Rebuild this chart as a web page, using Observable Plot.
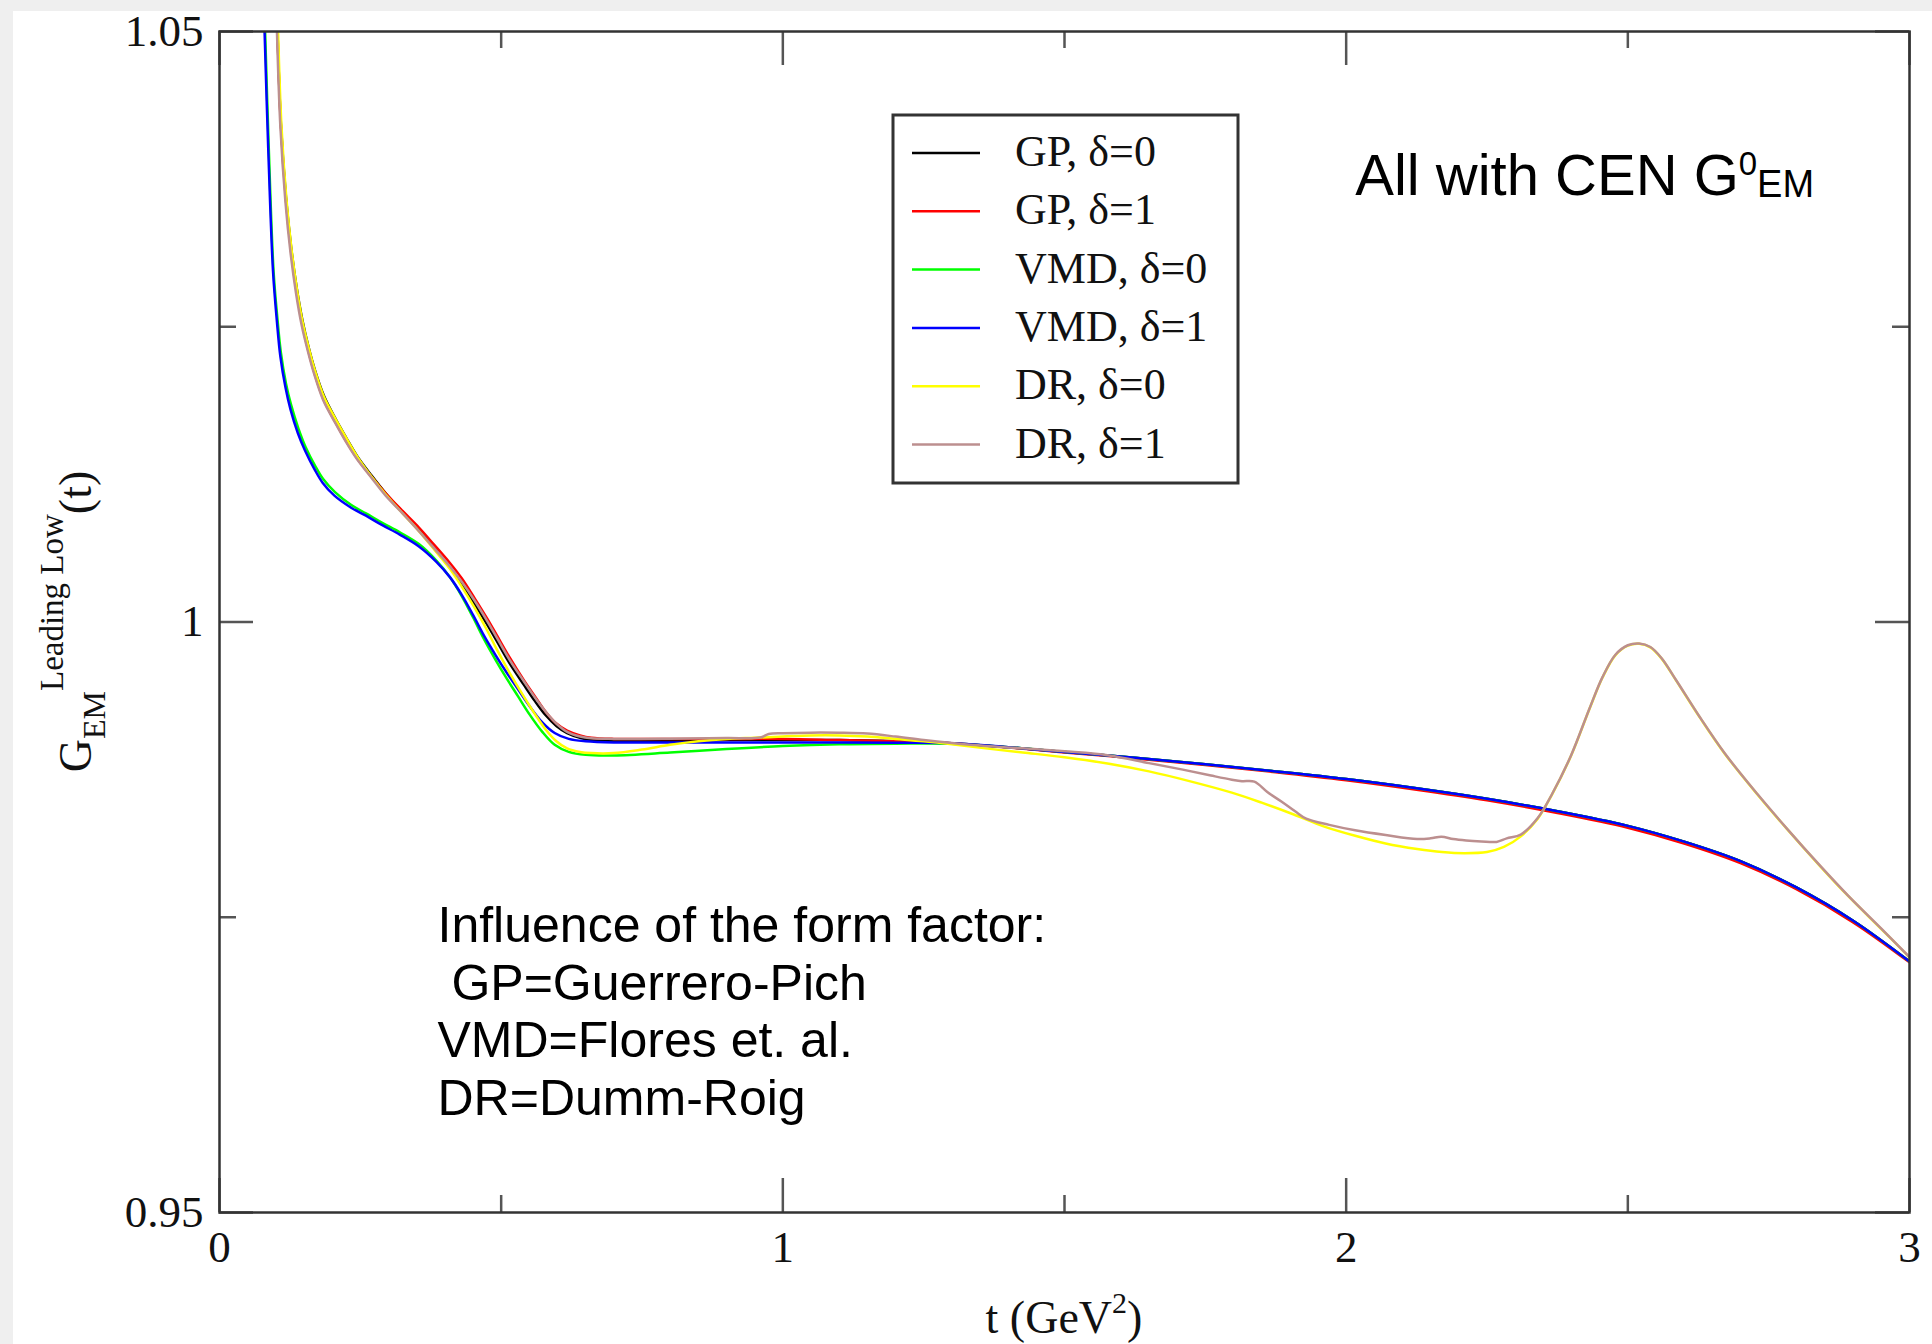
<!DOCTYPE html>
<html>
<head>
<meta charset="utf-8">
<script src="https://cdn.jsdelivr.net/npm/d3@7"></script>
<script src="https://cdn.jsdelivr.net/npm/@observablehq/plot@0.6"></script>
<style>
html,body{margin:0;padding:0;background:#fff;}
#wrap{position:relative;width:1932px;height:1344px;overflow:hidden;background:#fff;}
#stripTop{position:absolute;left:0;top:0;width:1932px;height:11px;background:#efefef;}
#stripLeft{position:absolute;left:0;top:0;width:13px;height:1344px;background:#efefef;}
#chart{position:absolute;left:0;top:0;}
</style>
</head>
<body>
<div id="wrap"><div id="stripTop"></div><div id="stripLeft"></div><div id="chart"></div></div>
<script>
// ---------- data ----------
const seriesNames  = ["GP, δ=0", "GP, δ=1", "VMD, δ=0", "VMD, δ=1", "DR, δ=0", "DR, δ=1"];
const seriesColors = ["#000000", "#ff0000", "#00ff00", "#0000ff", "#ffff00", "#bc8f8f"];

const xMajorTicks = [0, 1, 2, 3];
const xMinorTicks = [0.5, 1.5, 2.5];
const yMajorTicks = [0.95, 1, 1.05];
const yMinorTicks = [0.975, 1.025];
const xLabelParts = ["t (GeV", "2", ")"];
const yLabelParts = ["G", "EM", "Leading Low", "(t)"];
const noteTopParts = ["All with CEN G", "0", "EM"];
const noteTopPos = [2.017, 1.0361];
const noteBottomText = "Influence of the form factor:\n\u00A0GP=Guerrero-Pich\nVMD=Flores et. al.\nDR=Dumm-Roig";
const noteBottomPos = [0.387, 0.97638];

// [t (GeV^2), G]
const gp0 = [[0.103,1.0500],[0.109,1.0422],[0.118,1.0360],[0.127,1.0318],[0.137,1.0283],[0.147,1.0256],[0.158,1.0233],[0.169,1.0214],[0.185,1.0192],[0.206,1.0172],[0.225,1.0156],[0.245,1.0140],[0.270,1.0124],[0.295,1.0109],[0.325,1.0093],[0.354,1.0078],[0.380,1.0063],[0.409,1.0046],[0.430,1.0032],[0.453,1.0015],[0.475,0.9998],[0.492,0.9984],[0.515,0.9965],[0.540,0.9947],[0.560,0.9933],[0.579,0.9921],[0.598,0.9912],[0.617,0.9906],[0.640,0.9902],[0.660,0.9900],[0.700,0.9899],[0.750,0.9899],[0.800,0.9899],[0.900,0.9900],[1.000,0.9900],[1.100,0.9900],[1.200,0.9899],[1.3,0.98974],[1.4,0.98940],[1.5,0.98900],[1.625,0.98850],[1.75,0.98795],[1.875,0.98735],[2.0,0.98670],[2.125,0.98592],[2.25,0.98503],[2.375,0.98398],[2.5,0.98274],[2.6,0.98140],[2.7,0.97975],[2.8,0.97750],[2.9,0.97470],[3.0,0.97125]];
const gp1 = [[0.103,1.0500],[0.109,1.0420],[0.118,1.0357],[0.127,1.0314],[0.137,1.0279],[0.147,1.0252],[0.158,1.0229],[0.169,1.0210],[0.185,1.0188],[0.206,1.0169],[0.225,1.0153],[0.245,1.0138],[0.270,1.0123],[0.295,1.0109],[0.325,1.0094],[0.354,1.0080],[0.380,1.0066],[0.409,1.0050],[0.430,1.0037],[0.453,1.0020],[0.475,1.0003],[0.492,0.9989],[0.515,0.9970],[0.540,0.9951],[0.560,0.9937],[0.579,0.9924],[0.598,0.9914],[0.617,0.9908],[0.640,0.9904],[0.660,0.9902],[0.700,0.9901],[0.800,0.9901],[0.900,0.9901],[1.000,0.9901],[1.100,0.9900],[1.200,0.9899],[1.3,0.98972],[1.4,0.98937],[1.5,0.98896],[1.625,0.98845],[1.75,0.98789],[1.875,0.98728],[2.0,0.98660],[2.125,0.98580],[2.25,0.98490],[2.375,0.98383],[2.5,0.98258],[2.6,0.98124],[2.7,0.97958],[2.8,0.97735],[2.9,0.97457],[3.0,0.97118]];
const vmd0 = [[0.081,1.0500],[0.0875,1.0401],[0.096,1.0297],[0.103,1.0256],[0.109,1.0228],[0.118,1.0202],[0.127,1.0184],[0.140,1.0164],[0.153,1.0148],[0.170,1.0132],[0.184,1.0121],[0.205,1.0110],[0.234,1.0099],[0.260,1.0092],[0.289,1.0084],[0.320,1.0076],[0.354,1.0066],[0.385,1.0052],[0.409,1.0038],[0.430,1.0022],[0.450,1.0004],[0.470,0.9985],[0.490,0.9968],[0.510,0.9952],[0.530,0.9937],[0.550,0.9922],[0.573,0.9907],[0.595,0.9896],[0.620,0.9890],[0.650,0.98875],[0.700,0.98870],[0.800,0.98895],[0.900,0.98925],[1.000,0.98950],[1.100,0.98965],[1.200,0.98970],[1.3,0.98970],[1.4,0.98940],[1.5,0.98900],[1.625,0.98850],[1.75,0.98795],[1.875,0.98735],[2.0,0.98670],[2.125,0.98592],[2.25,0.98503],[2.375,0.98398],[2.5,0.98274],[2.6,0.98140],[2.7,0.97975],[2.8,0.97750],[2.9,0.97470],[3.0,0.97125]];
const vmd1 = [[0.080,1.0500],[0.0865,1.0401],[0.095,1.0297],[0.102,1.0254],[0.108,1.0225],[0.117,1.0199],[0.126,1.0180],[0.139,1.0160],[0.152,1.0145],[0.169,1.0129],[0.183,1.0118],[0.204,1.0107],[0.233,1.0097],[0.260,1.0090],[0.289,1.0082],[0.320,1.0074],[0.354,1.0064],[0.385,1.0051],[0.409,1.0038],[0.430,1.0023],[0.450,1.0006],[0.470,0.9988],[0.490,0.9972],[0.510,0.9957],[0.530,0.9943],[0.550,0.9929],[0.573,0.9915],[0.595,0.9906],[0.620,0.9901],[0.650,0.98990],[0.700,0.98980],[0.800,0.98980],[0.900,0.98980],[1.000,0.98980],[1.100,0.98980],[1.200,0.98978],[1.3,0.98974],[1.4,0.98940],[1.5,0.98900],[1.625,0.98850],[1.75,0.98795],[1.875,0.98735],[2.0,0.98670],[2.125,0.98592],[2.25,0.98503],[2.375,0.98398],[2.5,0.98274],[2.6,0.98140],[2.7,0.97975],[2.8,0.97750],[2.9,0.97470],[3.0,0.97125]];
const dr0 = [[0.104,1.0500],[0.110,1.0420],[0.119,1.0357],[0.128,1.0315],[0.138,1.0280],[0.148,1.0253],[0.159,1.0231],[0.170,1.0212],[0.186,1.0190],[0.207,1.0171],[0.226,1.0155],[0.246,1.0139],[0.270,1.0123],[0.295,1.0108],[0.325,1.0092],[0.354,1.0077],[0.380,1.0062],[0.409,1.0045],[0.430,1.0030],[0.453,1.0012],[0.475,0.9993],[0.492,0.9977],[0.515,0.9957],[0.540,0.9937],[0.560,0.9922],[0.579,0.9909],[0.598,0.9899],[0.617,0.9893],[0.640,0.9890],[0.660,0.9889],[0.700,0.9889],[0.750,0.9892],[0.800,0.9896],[0.850,0.9899],[0.900,0.9901],[0.950,0.9902],[1.000,0.9903],[1.050,0.9904],[1.100,0.9904],[1.150,0.9903],[1.200,0.9901],[1.250,0.9899],[1.300,0.98965],[1.360,0.98930],[1.426,0.98895],[1.500,0.98855],[1.579,0.98800],[1.650,0.98735],[1.720,0.98655],[1.797,0.98555],[1.850,0.98470],[1.907,0.98370],[1.960,0.98270],[2.016,0.98190],[2.070,0.98125],[2.126,0.98078],[2.170,0.98052],[2.210,0.98042],[2.250,0.98052],[2.280,0.98095],[2.310,0.98185],[2.340,0.98335],[2.366,0.98545],[2.399,0.98865],[2.432,0.99265],[2.455,0.99530],[2.478,0.99720],[2.500,0.99800],[2.520,0.99815],[2.540,0.99785],[2.560,0.99690],[2.585,0.99510],[2.628,0.99190],[2.672,0.98885],[2.730,0.98540],[2.782,0.98250],[2.840,0.97940],[2.891,0.97680],[2.950,0.97400],[3.000,0.97160]];
const dr1 = [[0.102,1.0500],[0.108,1.0420],[0.117,1.0356],[0.126,1.0313],[0.136,1.0278],[0.146,1.0251],[0.157,1.0229],[0.168,1.0210],[0.184,1.0188],[0.205,1.0169],[0.224,1.0153],[0.244,1.0138],[0.270,1.0122],[0.295,1.0107],[0.325,1.0092],[0.354,1.0077],[0.380,1.0063],[0.409,1.0047],[0.430,1.0034],[0.453,1.0018],[0.475,1.0001],[0.492,0.9987],[0.515,0.9968],[0.540,0.9950],[0.560,0.9936],[0.579,0.9924],[0.598,0.9914],[0.617,0.9907],[0.640,0.9903],[0.660,0.99015],[0.700,0.99010],[0.800,0.99012],[0.900,0.99018],[0.960,0.99022],[0.975,0.99052],[1.000,0.99058],[1.050,0.99063],[1.100,0.99062],[1.150,0.99055],[1.200,0.99030],[1.250,0.99000],[1.300,0.98975],[1.360,0.98950],[1.426,0.98930],[1.500,0.98905],[1.579,0.98870],[1.650,0.98805],[1.710,0.98750],[1.760,0.98700],[1.797,0.98665],[1.815,0.98652],[1.837,0.98648],[1.860,0.98560],[1.885,0.98480],[1.910,0.98395],[1.929,0.98335],[1.970,0.98282],[2.016,0.98236],[2.070,0.98196],[2.126,0.98162],[2.150,0.98168],[2.169,0.98182],[2.190,0.98162],[2.213,0.98150],[2.240,0.98142],[2.267,0.98138],[2.285,0.98168],[2.310,0.98200],[2.340,0.98340],[2.366,0.98548],[2.399,0.98868],[2.432,0.99268],[2.455,0.99533],[2.478,0.99723],[2.500,0.99803],[2.520,0.99818],[2.540,0.99788],[2.560,0.99693],[2.585,0.99513],[2.628,0.99193],[2.672,0.98888],[2.730,0.98543],[2.782,0.98253],[2.840,0.97943],[2.891,0.97683],[2.950,0.97403],[3.000,0.97163]];

const seriesData = [gp0, gp1, vmd0, vmd1, dr0, dr1];

// ---------- build ----------
const rows = [];
seriesNames.forEach((name, i) => seriesData[i].forEach(([t, g]) => rows.push({series: name, t, g})));

const W = 1932, H = 1344;
const mL = 219, mR = 23, mT = 31, mB = 132;
const innerW = W - mL - mR, innerH = H - mT - mB;
const serif = "'Liberation Serif', 'Times New Roman', Times, serif";
const sans = "'Liberation Sans', Arial, Helvetica, sans-serif";
const tickColor = "#555";
const majorLen = 34, minorLen = 17;

const chart = Plot.plot({
  width: W, height: H,
  marginLeft: mL, marginRight: mR, marginTop: mT, marginBottom: mB,
  style: {background: "transparent", fontFamily: serif, fontSize: "45px", color: "#111"},
  x: {domain: [0, 3], axis: null},
  y: {domain: [0.95, 1.05], axis: null},
  color: {domain: seriesNames, range: seriesColors},
  marks: [
    // inward ticks on all four sides
    Plot.tickX(xMajorTicks, {x: d => d, stroke: tickColor, strokeWidth: 2.5, insetTop: innerH - majorLen}),
    Plot.tickX(xMajorTicks, {x: d => d, stroke: tickColor, strokeWidth: 2.5, insetBottom: innerH - majorLen}),
    Plot.tickX(xMinorTicks, {x: d => d, stroke: tickColor, strokeWidth: 2.5, insetTop: innerH - minorLen}),
    Plot.tickX(xMinorTicks, {x: d => d, stroke: tickColor, strokeWidth: 2.5, insetBottom: innerH - minorLen}),
    Plot.tickY(yMajorTicks, {y: d => d, stroke: tickColor, strokeWidth: 2.5, insetRight: innerW - majorLen}),
    Plot.tickY(yMajorTicks, {y: d => d, stroke: tickColor, strokeWidth: 2.5, insetLeft: innerW - majorLen}),
    Plot.tickY(yMinorTicks, {y: d => d, stroke: tickColor, strokeWidth: 2.5, insetRight: innerW - minorLen}),
    Plot.tickY(yMinorTicks, {y: d => d, stroke: tickColor, strokeWidth: 2.5, insetLeft: innerW - minorLen}),
    // tick labels
    Plot.axisX(xMajorTicks, {anchor: "bottom", tickSize: 0, tickPadding: 18, tickFormat: d => String(d), fontSize: 45, fontFamily: serif, label: null}),
    Plot.axisY(yMajorTicks, {anchor: "left", tickSize: 0, tickPadding: 16, tickFormat: d => String(d), fontSize: 45, fontFamily: serif, label: null}),
    // curves
    Plot.line(rows, {x: "t", y: "g", z: "series", stroke: "series", strokeWidth: 2.5, curve: "catmull-rom", clip: true}),
    // frame
    Plot.frame({stroke: "#333", strokeWidth: 2.5}),
    // lower-left annotation
    Plot.text([noteBottomText], {x: () => noteBottomPos[0], y: () => noteBottomPos[1], text: d => d,
      textAnchor: "start", lineAnchor: "top", lineHeight: 1.155, fontSize: 50, fontFamily: sans, fill: "#000"})
  ]
});

document.getElementById("chart").appendChild(chart);

const svg = d3.select(chart);
const sx = chart.scale("x"), sy = chart.scale("y");

// x-axis title with raised exponent
const xl = svg.append("text")
  .attr("x", (sx.apply(0) + sx.apply(3)) / 2).attr("y", 1333)
  .attr("text-anchor", "middle").attr("fill", "#111")
  .style("font-family", serif).attr("font-size", 46);
xl.append("tspan").text(xLabelParts[0]);
xl.append("tspan").attr("font-size", 30).attr("dy", -20).text(xLabelParts[1]);
xl.append("tspan").attr("dy", 20).text(xLabelParts[2]);

// y-axis title with sub/superscripts
const yl = svg.append("text")
  .attr("transform", `translate(91, ${mT + innerH / 2}) rotate(-90)`)
  .attr("text-anchor", "middle").attr("fill", "#111")
  .style("font-family", serif);
yl.append("tspan").attr("font-size", 46).text(yLabelParts[0]);
yl.append("tspan").attr("font-size", 32).attr("dy", 14).text(yLabelParts[1]);
yl.append("tspan").attr("font-size", 33).attr("dy", -42).text(yLabelParts[2]);
yl.append("tspan").attr("font-size", 46).attr("dy", 28).text(yLabelParts[3]);

// top-right annotation
const nt = svg.append("text")
  .attr("x", sx.apply(noteTopPos[0])).attr("y", sy.apply(noteTopPos[1]))
  .attr("text-anchor", "start").attr("fill", "#000").style("font-family", sans);
nt.append("tspan").attr("font-size", 58).text(noteTopParts[0]);
nt.append("tspan").attr("font-size", 33).attr("dy", -20).text(noteTopParts[1]);
nt.append("tspan").attr("font-size", 38).attr("dy", 22).text(noteTopParts[2]);

// legend box
const lg = svg.append("g").attr("transform", "translate(893,115)");
lg.append("rect").attr("width", 345).attr("height", 368).attr("fill", "#fff").attr("stroke", "#333").attr("stroke-width", 3);
seriesNames.forEach((name, i) => {
  const y = 38 + i * 58.3;
  lg.append("line").attr("x1", 19).attr("x2", 87).attr("y1", y).attr("y2", y)
    .attr("stroke", seriesColors[i]).attr("stroke-width", 2.5);
  lg.append("text").attr("x", 122).attr("y", y + 13).attr("font-size", 44)
    .attr("text-anchor", "start")
    .style("font-family", serif).attr("fill", "#111").text(name);
});
</script>
</body>
</html>
